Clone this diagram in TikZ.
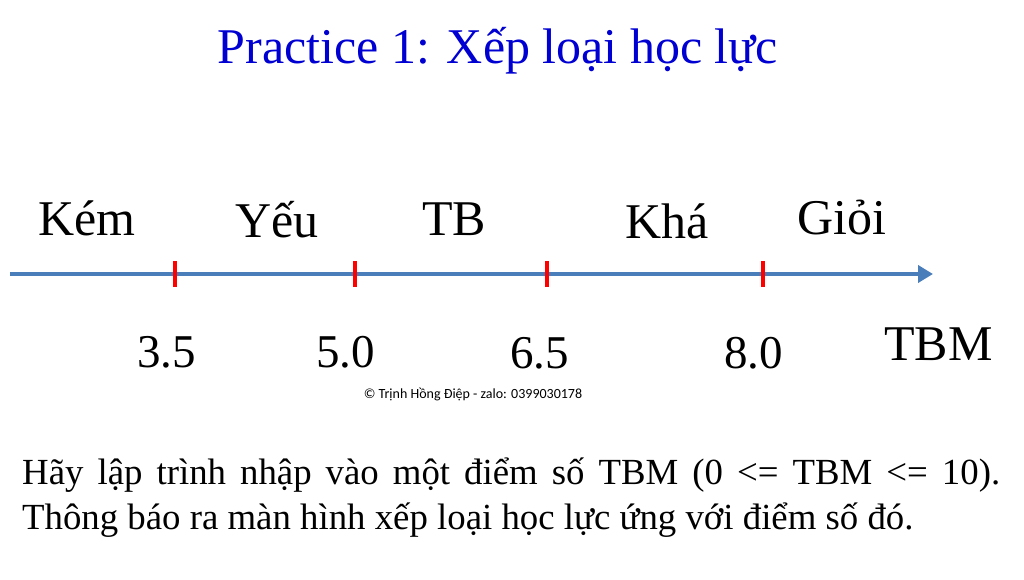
\documentclass[tikz,border=0pt]{standalone}
\usepackage{fontspec}
\setmainfont{Liberation Serif}
\newfontfamily\calibri{Carlito}
\usetikzlibrary{arrows.meta}
\definecolor{axisblue}{RGB}{74,126,187}
\definecolor{titleblue}{RGB}{0,0,210}
\definecolor{tickred}{RGB}{255,0,0}
\tikzset{
  lbl/.style={anchor=base west, inner sep=0pt, font=\fontsize{50}{58}\selectfont},
  num/.style={anchor=base west, inner sep=0pt, font=\fontsize{47}{55}\selectfont},
  axisline/.style={draw=axisblue, line width=4pt, -{Triangle[length=15pt,width=17pt]}},
  tickmark/.style={draw=tickred, line width=4pt},
  body/.style={anchor=base west, inner sep=0pt, font=\fontsize{36.8}{45}\selectfont},
}
\begin{document}
\begin{tikzpicture}[x=1pt,y=-1pt]
\useasboundingbox (0,0) rectangle (1024,580);
\node[anchor=base, inner sep=0pt, text=titleblue, font=\fontsize{50}{58}\selectfont] (title) at (498,64) {Practice 1: Xếp loại học lực};
% axis
\coordinate (a0) at (10,274);
\coordinate (a1) at (933,274);
\draw[axisline] (a0) -- (a1);
% ticks
\foreach \x/\n in {175/t1,355/t2,547/t3,763/t4}{
  \coordinate (\n top) at (\x,261);
  \coordinate (\n bot) at (\x,287);
  \draw[tickmark] (\n top) -- (\n bot);
}
% category labels
\node[lbl] (kem) at (38,235) {Kém};
\node[lbl] (yeu) at (235,237) {Yếu};
\node[lbl] (tb) at (422,235) {TB};
\node[lbl] (kha) at (625,238) {Khá};
\node[lbl] (gioi) at (797,234) {Giỏi};
% numbers
\node[num] (n35) at (137,367) {3.5};
\node[num] (n50) at (316,367) {5.0};
\node[num] (n65) at (510,368) {6.5};
\node[num] (n80) at (724,368) {8.0};
\node[lbl] (tbm) at (884,360) {TBM};
% copyright
\node[anchor=base, inner sep=0pt, font=\calibri\fontsize{14}{16}\selectfont] (copy) at (473,398) {© Trịnh Hồng Điệp - zalo: 0399030178};
% body text
\node[body] (line1) at (22,484) {\makebox[978pt][s]{Hãy lập trình nhập vào một điểm số TBM (0 <= TBM <= 10).}};
\node[body] (line2) at (22,529) {Thông báo ra màn hình xếp loại học lực ứng với điểm số đó.};
\end{tikzpicture}
\end{document}
